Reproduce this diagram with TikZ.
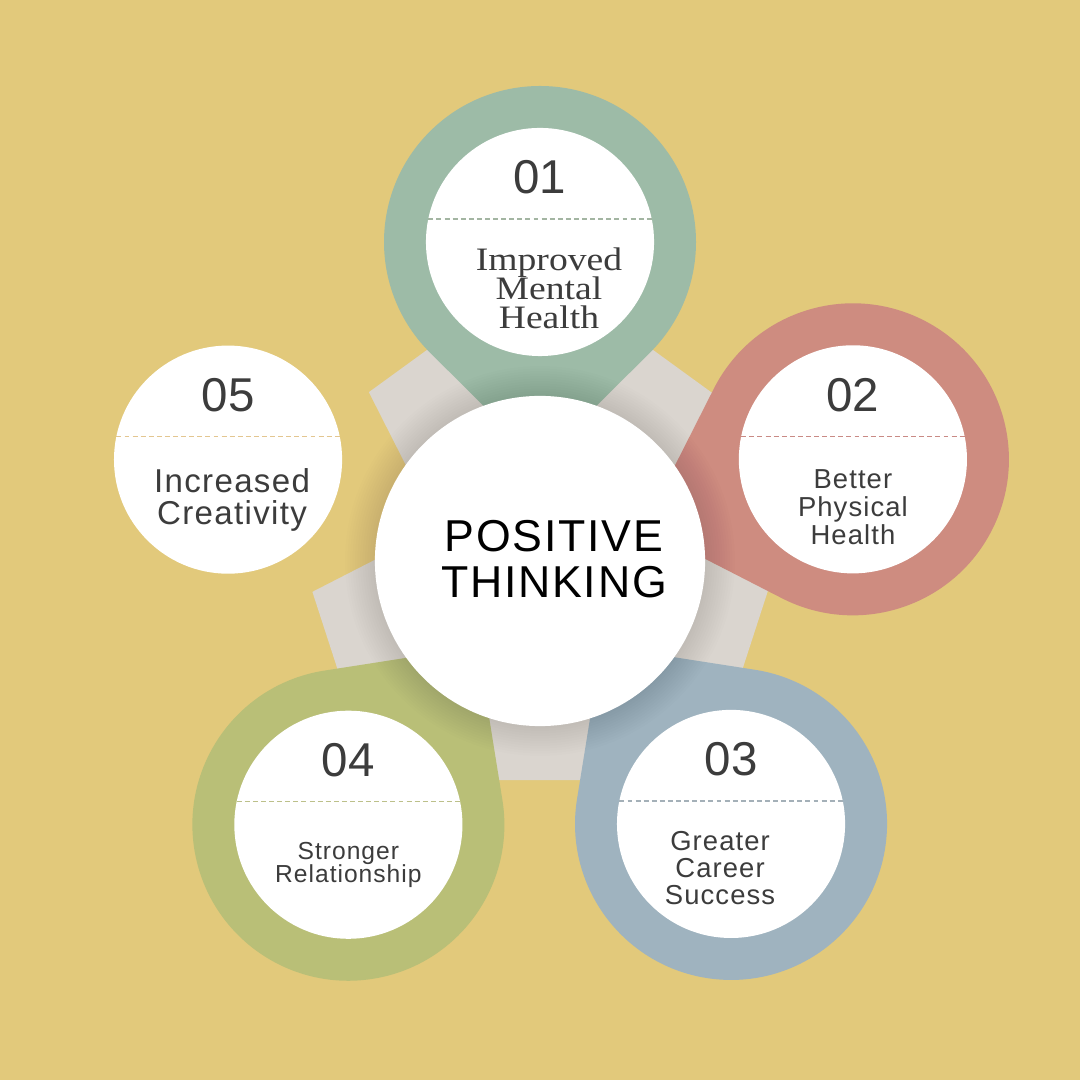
\documentclass[tikz,border=0pt]{standalone}
\usepackage{fontspec}
\usetikzlibrary{calc,shapes.geometric}

\newfontfamily\plainsans{Liberation Sans}
\newfontfamily\widesans{Liberation Sans}[LetterSpace=4]
\newfontfamily\bookserif{Liberation Serif}[FakeStretch=1.15]
\lineskiplimit=-20pt

\definecolor{paper}{HTML}{E2C97B}
\definecolor{stone}{HTML}{DAD5CF}
\definecolor{sage}{HTML}{9DBBA7}
\definecolor{rose}{HTML}{CE8C80}
\definecolor{slate}{HTML}{9FB3BF}
\definecolor{olive}{HTML}{B9BF77}
\definecolor{ink}{HTML}{3C3C3C}
\definecolor{sageline}{HTML}{A3B5A2}
\definecolor{roseline}{HTML}{C98A85}
\definecolor{slateline}{HTML}{A4B0B8}
\definecolor{oliveline}{HTML}{BCC08A}
\definecolor{sandline}{HTML}{E3C690}

\begin{document}
\begin{tikzpicture}[
  x=0.01cm, y=0.01cm,
  plate/.style={regular polygon, regular polygon sides=5, minimum size=5.66cm,
    inner sep=0pt, fill=stone},
  hub/.style={circle, fill=white, minimum size=3.3cm, inner sep=0pt, outer sep=0pt},
  face/.style={circle, fill=white, minimum size=2.28cm, inner sep=0pt, outer sep=0pt},
  num/.style={anchor=base, text=ink, font=\plainsans\fontsize{13.5}{14}\selectfont},
  blurb/.style={align=center, inner sep=0pt, text=ink},
  divider/.style={dash pattern=on 1.4pt off 0.9pt, line width=0.35pt},
  ]
  \fill[paper] (-540,-519) rectangle (540,561);
  \coordinate (O) at (0,0);
  \node[plate] (base) at (0,10) {};

  % teardrops pointing at the hub (the fifth one is in the paper colour)
  \foreach \n/\ang/\dist/\rcol in {1/90/319/sage, 2/18/329/rose, 3/-54/325/slate,
                                   4/-126/326/olive, 5/162/328/paper}{
    \coordinate (c\n) at (\ang:\dist);
    \fill[\rcol] ($(c\n)+(\ang+180:220)$) -- ($(c\n)+(\ang+225:156)$)
      arc[start angle=\ang+225, end angle=\ang+495, radius=156] -- cycle;
  }

  % soft shadow round the hub
  \foreach \k in {1,...,12}
    \fill[black, opacity=0.009] (O) circle[radius=165+2.5*\k];

  \foreach \n/\dcol in {1/sageline, 2/roseline, 3/slateline, 4/oliveline, 5/sandline}{
    \node[face] (f\n) at (c\n) {};
    \draw[divider, \dcol] ($(f\n.center)+(-111.6,23)$) -- ($(f\n.center)+(111.6,23)$);
    \node[num] (n\n) at ($(c\n)+(0,48)$) {0\n};
  }

  \node[hub] (core) at (O) {};
  \node[blurb, text=black, font=\widesans\fontsize{12.7}{13.1}\selectfont]
    (title) at (14,1.5) {POSITIVE\\THINKING};

  \node[blurb, font=\bookserif\fontsize{9.3}{8.2}\selectfont]
    (t1) at ($(c1)+(9,-46)$) {Improved\\Mental\\Health};
  \node[blurb, font=\widesans\fontsize{7.8}{8}\selectfont]
    (t2) at ($(c2)+(0,-48)$) {Better\\Physical\\Health};
  \node[blurb, font=\widesans\fontsize{7.8}{7.7}\selectfont]
    (t3) at ($(c3)+(-11,-44)$) {Greater\\Career\\Success};
  \node[blurb, font=\widesans\fontsize{7}{6.6}\selectfont]
    (t4) at ($(c4)+(0,-40)$) {Stronger\\Relationship};
  \node[blurb, font=\widesans\fontsize{9.4}{9.1}\selectfont]
    (t5) at ($(c5)+(4,-40)$) {Increased\\Creativity};
\end{tikzpicture}
\end{document}
